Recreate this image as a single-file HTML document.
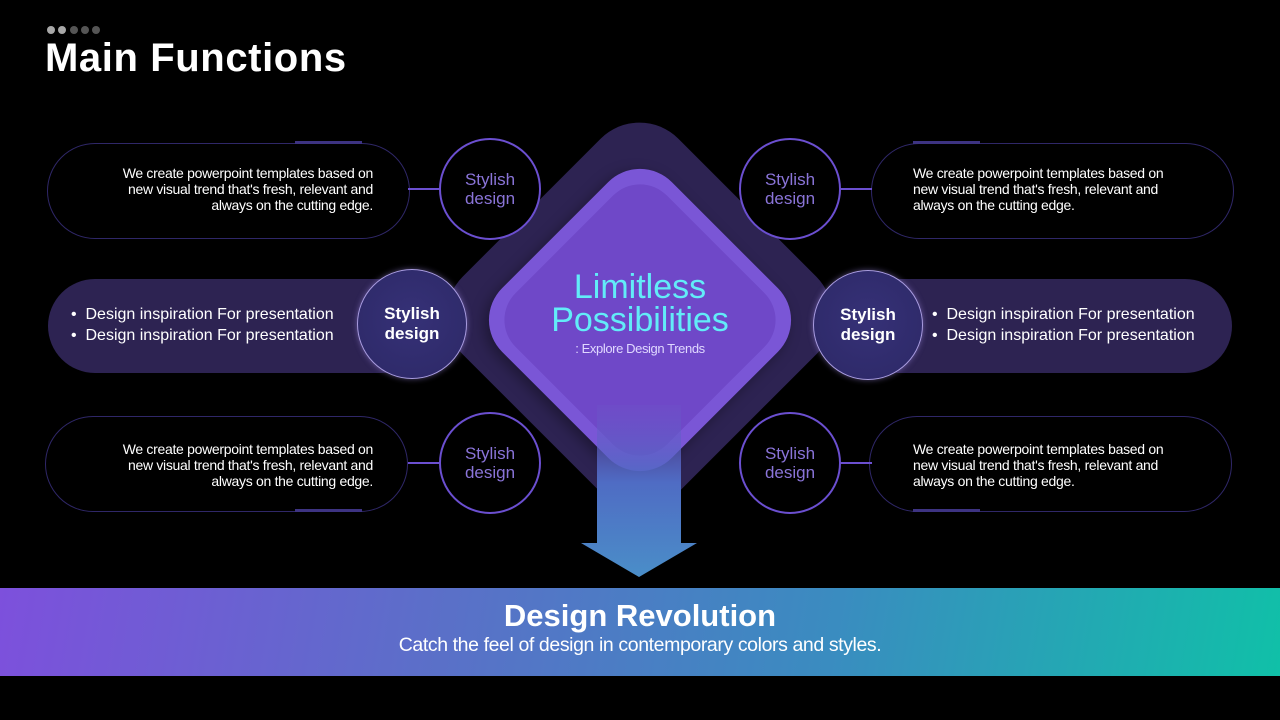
<!DOCTYPE html>
<html><head><meta charset="utf-8">
<style>
*{margin:0;padding:0;box-sizing:border-box}
body{width:1280px;height:720px;background:#000;position:relative;overflow:hidden;font-family:"Liberation Sans",sans-serif;color:#fff}
.a{position:absolute}
.dot{position:absolute;top:26px;width:8px;height:8px;border-radius:50%}
.pill{position:absolute;border:1px solid #2f2768;border-radius:48px;height:96px;width:363px}
.bar{position:absolute;height:3px;width:67px;background:#3d3382}
.ptxt{position:absolute;font-size:14px;line-height:16px;color:#fff;letter-spacing:-0.3px}
.c{position:absolute;width:102px;height:102px;border-radius:50%;border:2px solid #6b4fd0;background:#000;display:flex;align-items:center;justify-content:center;text-align:center;color:#8a74d8;font-size:17px;line-height:19px}
.ln{position:absolute;height:2px;width:32px;background:#6b4fd0}
.mp{position:absolute;top:279px;height:94px;background:#2d2352;border-radius:47px}
.mc{position:absolute;width:110px;height:110px;border-radius:50%;background:radial-gradient(circle at 50% 45%,#363177,#2c2866);border:1.5px solid #a99ce0;display:flex;align-items:center;justify-content:center;text-align:center;font-weight:bold;font-size:17px;line-height:20px;box-shadow:0 0 6px rgba(160,140,230,.5)}
.bl{position:absolute;font-size:16px;line-height:21px}
</style></head><body>
<div class="dot" style="left:47px;background:#a8a8a8"></div>
<div class="dot" style="left:58px;background:#a8a8a8"></div>
<div class="dot" style="left:70px;background:#555"></div>
<div class="dot" style="left:81px;background:#555"></div>
<div class="dot" style="left:92px;background:#555"></div>
<div class="a" style="left:45px;top:36px;font-size:40px;font-weight:bold;letter-spacing:0.6px">Main Functions</div>

<div class="a" style="left:487px;top:163px;width:305px;height:305px;border-radius:55px;background:#2d2352;transform:rotate(45deg)"></div>
<div class="a" style="left:520px;top:200px;width:240px;height:240px;border-radius:45px;background:#7a56d6;transform:rotate(45deg);box-shadow:0 6px 14px rgba(0,0,0,.35)"></div>
<div class="a" style="left:533px;top:213px;width:214px;height:214px;border-radius:38px;background:#6f48c8;transform:rotate(45deg)"></div>
<svg class="a" style="left:0;top:0" width="1280" height="720">
<defs><linearGradient id="ag" x1="0" y1="0" x2="0" y2="1"><stop offset="0" stop-color="#6d55c8" stop-opacity=".3"/><stop offset=".45" stop-color="#4f6cc4"/><stop offset="1" stop-color="#4a8ec8"/></linearGradient></defs>
<polygon points="597,405 681,405 681,543 697,543 639,577 581,543 597,543" fill="url(#ag)"/>
</svg>
<div class="a" style="left:470px;top:271px;width:340px;text-align:center;color:#62ecf8;font-size:34px;line-height:33px">Limitless<br>Possibilities</div>
<div class="a" style="left:490px;top:341px;width:300px;text-align:center;font-size:13px;color:#e0d8ff;letter-spacing:-0.4px">: Explore Design Trends</div>

<div class="pill" style="left:47px;top:143px"></div>
<div class="bar" style="left:295px;top:141px"></div>
<div class="ptxt" style="left:60px;top:165px;width:313px;text-align:right">We create powerpoint templates based on<br>new visual trend that's fresh, relevant and<br>always on the cutting edge.</div>
<div class="ln" style="left:408px;top:188px"></div>
<div class="c" style="left:439px;top:138px">Stylish<br>design</div>
<div class="pill" style="left:45px;top:416px"></div>
<div class="bar" style="left:295px;top:509px"></div>
<div class="ptxt" style="left:60px;top:441px;width:313px;text-align:right">We create powerpoint templates based on<br>new visual trend that's fresh, relevant and<br>always on the cutting edge.</div>
<div class="ln" style="left:408px;top:462px"></div>
<div class="c" style="left:439px;top:412px">Stylish<br>design</div>
<div class="pill" style="left:871px;top:143px"></div>
<div class="bar" style="left:913px;top:141px"></div>
<div class="ptxt" style="left:913px;top:165px;width:320px">We create powerpoint templates based on<br>new visual trend that's fresh, relevant and<br>always on the cutting edge.</div>
<div class="ln" style="left:840px;top:188px"></div>
<div class="c" style="left:739px;top:138px">Stylish<br>design</div>
<div class="pill" style="left:869px;top:416px"></div>
<div class="bar" style="left:913px;top:509px"></div>
<div class="ptxt" style="left:913px;top:441px;width:320px">We create powerpoint templates based on<br>new visual trend that's fresh, relevant and<br>always on the cutting edge.</div>
<div class="ln" style="left:840px;top:462px"></div>
<div class="c" style="left:739px;top:412px">Stylish<br>design</div>

<div class="mp" style="left:48px;width:380px"></div>
<div class="bl" style="left:71px;top:304px">•&nbsp; Design inspiration For presentation<br>•&nbsp; Design inspiration For presentation</div>
<div class="mc" style="left:357px;top:269px">Stylish<br>design</div>
<div class="mp" style="left:852px;width:380px"></div>
<div class="bl" style="left:932px;top:304px">•&nbsp; Design inspiration For presentation<br>•&nbsp; Design inspiration For presentation</div>
<div class="mc" style="left:813px;top:270px">Stylish<br>design</div>

<div class="a" style="left:0;top:588px;width:1280px;height:88px;background:linear-gradient(100deg,#7d50dc 0%,#5a70c8 35%,#3a8cc0 65%,#10c0a8 100%)"></div>
<div class="a" style="left:0;top:598px;width:1280px;text-align:center;font-size:31px;font-weight:bold">Design Revolution</div>
<div class="a" style="left:0;top:634px;width:1280px;text-align:center;font-size:19.5px;letter-spacing:-0.4px">Catch the feel of design in contemporary colors and styles.</div>
</body></html>
